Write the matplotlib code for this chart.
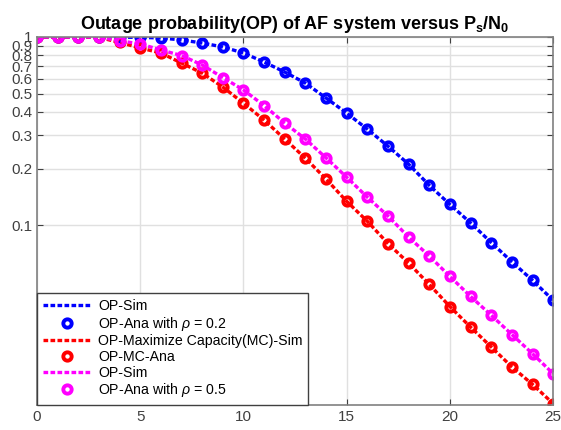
import matplotlib
matplotlib.use("Agg")
import matplotlib.pyplot as plt

plt.rcParams['font.family'] = ['Liberation Sans', 'DejaVu Sans']
plt.rcParams['mathtext.fontset'] = 'custom'
plt.rcParams['mathtext.rm'] = 'Liberation Sans'
plt.rcParams['mathtext.it'] = 'Liberation Sans:italic'
plt.rcParams['mathtext.bf'] = 'Liberation Sans:bold'

## data
snr = list(range(0, 26))
op_rho02 = [1.0, 1.0, 1.0, 1.0, 0.998, 0.995, 0.988, 0.964, 0.929, 0.885,
            0.822, 0.736, 0.651, 0.569, 0.474, 0.394, 0.324, 0.263, 0.211, 0.163,
            0.129, 0.103, 0.081, 0.064, 0.051, 0.040]
op_mc = [1.0, 1.0, 1.0, 0.995, 0.935, 0.874, 0.822, 0.727, 0.643, 0.542,
         0.445, 0.362, 0.287, 0.227, 0.176, 0.134, 0.105, 0.080, 0.063, 0.0485,
         0.037, 0.0288, 0.0226, 0.0177, 0.0143, 0.0113]
op_rho05 = [1.0, 1.0, 1.0, 0.998, 0.955, 0.918, 0.853, 0.797, 0.710, 0.609,
            0.523, 0.432, 0.349, 0.287, 0.228, 0.180, 0.141, 0.112, 0.0865, 0.0687,
            0.0535, 0.0419, 0.0333, 0.0263, 0.0208, 0.0163]
yticks = [0.1, 0.2, 0.3, 0.4, 0.5, 0.6, 0.7, 0.8, 0.9, 1]
ytick_labels = ['0.1', '0.2', '0.3', '0.4', '0.5', '0.6', '0.7', '0.8', '0.9', '1']

fig = plt.figure(figsize=(5.61, 4.30), dpi=100)
ax = fig.add_axes([0.066, 0.058, 0.92, 0.856])

series = [
    (op_rho02, 'blue', 'OP-Sim', r'OP-Ana with $\rho$ = 0.2'),
    (op_mc, 'red', 'OP-Maximize Capacity(MC)-Sim', 'OP-MC-Ana'),
    (op_rho05, 'magenta', 'OP-Sim', r'OP-Ana with $\rho$ = 0.5'),
]
for vals, col, lab_sim, lab_ana in series:
    ax.plot(snr, vals, '--', color=col, lw=2.4, dashes=(1.4, 0.7), label=lab_sim)
    ax.plot(snr, vals, 'o', color=col, ms=6, mew=2.8, mfc='none', label=lab_ana)

ax.set_yscale('log')
ax.set_xlim(0, 25)
ax.set_ylim(0.0111, 1.0)
ax.set_xticks([0, 5, 10, 15, 20, 25])
ax.set_yticks(yticks)
ax.set_yticklabels(ytick_labels)
ax.minorticks_off()
ax.tick_params(direction='in', top=True, right=True, labelsize=11,
               colors='#404040', length=4)
ax.grid(True, color='#e0e0e0', lw=1)
for sp in ax.spines.values():
    sp.set_color('#808080')
    sp.set_linewidth(1.2)

ax.set_title(r'Outage probability(OP) of AF system versus $\mathbf{P_s}$/$\mathbf{N_0}$',
             fontsize=13, fontweight='bold', pad=6)

leg = ax.legend(loc='lower left', borderaxespad=0, fancybox=False, fontsize=10.2,
                handlelength=3.5, labelspacing=0.12, handletextpad=0.4,
                borderpad=0.4, framealpha=1)
leg.get_frame().set_edgecolor('#404040')
leg.get_frame().set_linewidth(1)

fig.savefig('out.png', dpi=100)
